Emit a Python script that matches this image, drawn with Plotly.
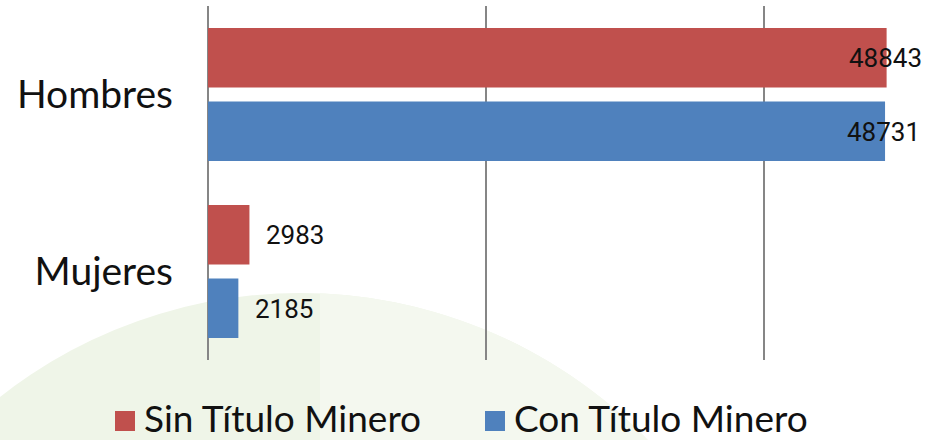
import numpy as np
import plotly.graph_objects as go

# ---- data ----
categories = ["Hombres", "Mujeres"]
series_names = ["Sin Título Minero", "Con Título Minero"]
sin_titulo = [48843, 2983]
con_titulo = [48731, 2185]
series_colors = ["#C0504D", "#4F81BD"]

# ---- canvas geometry (pixels) ----
W, H = 927, 440
M_L, M_R, M_T, M_B = 208, 0, 6, 80
X_MAX = 51750
PLOT_W = W - M_L - M_R
PLOT_H = H - M_T - M_B


def px_x(px):
    """Pixel x on the canvas -> paper coordinate."""
    return (px - M_L) / PLOT_W


def px_y(py):
    """Pixel y on the canvas -> paper coordinate."""
    return (H - M_B - py) / PLOT_H


fig = go.Figure()
for name, vals, col in zip(series_names, [sin_titulo, con_titulo], series_colors):
    fig.add_trace(go.Bar(
        y=categories, x=vals, name=name, orientation="h",
        marker=dict(color=col, line=dict(width=0)),
        showlegend=False, hoverinfo="skip",
    ))

# value labels next to the bar ends (pulled inside when near the right edge)
label_font = dict(family="Roboto", size=26, color="#111111")
for i, (vals, name) in enumerate(zip([sin_titulo, con_titulo], series_names)):
    for cat, v in zip(categories, vals):
        near_edge = v > 0.85 * X_MAX
        fig.add_annotation(
            x=v, y=cat, xref="x", yref="y", text=str(v), showarrow=False,
            xanchor="right" if near_edge else "left",
            xshift=37 if near_edge else 15,
            yshift=37 if i == 0 else -37,
            font=label_font,
        )

# soft green backdrop disc
cx, cy, R = 300, 778, 485
fig.add_shape(type="circle", xref="paper", yref="paper",
              x0=px_x(cx - R), x1=px_x(cx + R), y0=px_y(cy + R), y1=px_y(cy - R),
              fillcolor="#EFF5E8", line=dict(width=0), layer="below")
# lighter band on the right part of the disc
band_x = 320
t = np.linspace(-np.pi / 2, np.pi / 2, 120)
xs = cx + R * np.sin(t)
ys = cy - R * np.cos(t)
mask = xs >= band_x
pts = list(zip(xs[mask], ys[mask]))
path = "M {:.4f},{:.4f} ".format(px_x(band_x), px_y(cy - np.sqrt(R**2 - (band_x - cx) ** 2)))
path += " ".join("L {:.4f},{:.4f}".format(px_x(a), px_y(b)) for a, b in pts)
path += " L {:.4f},{:.4f} Z".format(px_x(band_x), px_y(cy + R))
fig.add_shape(type="path", xref="paper", yref="paper", path=path,
              fillcolor="#F4F8EF", line=dict(width=0), layer="below")

# legend drawn as swatches + text
legend_font = dict(family="Lato", size=37, color="#111111")
legend_x = [115, 485]
for lx, name, col in zip(legend_x, series_names, series_colors):
    fig.add_shape(type="rect", xref="paper", yref="paper",
                  x0=px_x(lx), x1=px_x(lx + 20), y0=px_y(431), y1=px_y(411),
                  fillcolor=col, line=dict(width=0))
    fig.add_annotation(x=px_x(lx + 28), y=px_y(417), xref="paper", yref="paper",
                       text=name, showarrow=False, xanchor="left", yanchor="middle",
                       borderpad=0, font=legend_font)

fig.update_layout(
    width=W, height=H,
    margin=dict(l=M_L, r=M_R, t=M_T, b=M_B, pad=0),
    paper_bgcolor="white", plot_bgcolor="rgba(0,0,0,0)",
    barmode="group", bargap=0.17, bargroupgap=0.19,
    showlegend=False,
    xaxis=dict(range=[0, X_MAX], dtick=20000, showticklabels=False,
               showgrid=True, gridcolor="#868686", gridwidth=2,
               zeroline=True, zerolinecolor="#868686", zerolinewidth=2,
               showline=False, fixedrange=True),
    yaxis=dict(autorange="reversed", showgrid=False, zeroline=False,
               showline=False, ticks="", ticklabelstandoff=34,
               tickfont=dict(family="Lato", size=39, color="#111111"),
               fixedrange=True),
)

fig.write_html("out.html", config={"displayModeBar": False})
